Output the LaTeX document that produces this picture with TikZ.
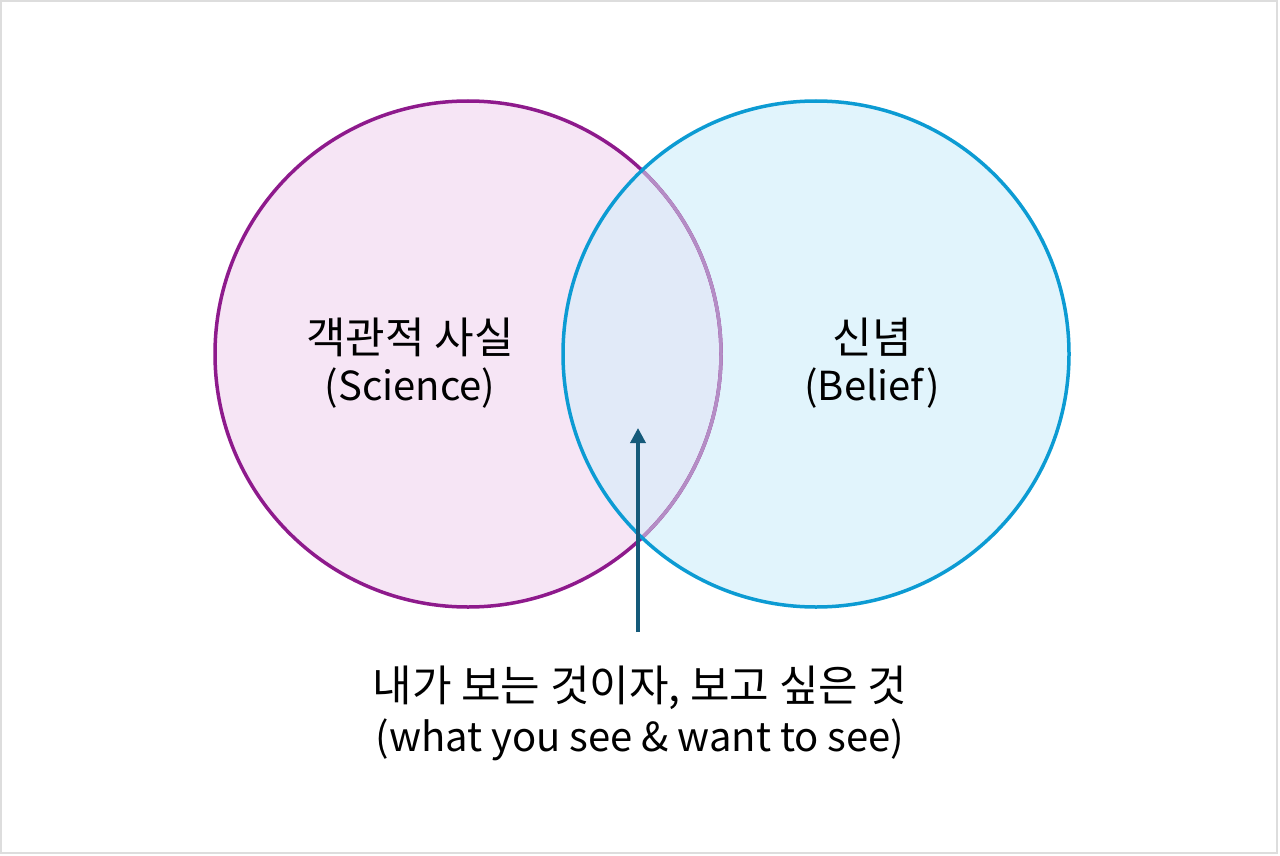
\documentclass[tikz,border=0pt]{standalone}
\usepackage{fontspec}
\setmainfont{Noto Sans CJK KR}
\usetikzlibrary{arrows.meta}

\definecolor{scifill}{HTML}{F6E5F5}
\definecolor{sciline}{HTML}{8E1A8C}
\definecolor{belfill}{HTML}{E1F4FC}
\definecolor{belline}{HTML}{0C9BD3}
\definecolor{bothfill}{HTML}{E1EAF8}
\definecolor{bothline}{HTML}{B48DC5}
\definecolor{arrowcol}{HTML}{155A7A}
\definecolor{framecol}{HTML}{DDDDDD}

\tikzset{
  label kr/.style={font=\fontsize{43}{50}\selectfont, text=black},
  label en/.style={font=\fontsize{40}{48}\selectfont, text=black},
  ring/.style={line width=3.5pt},
}

\begin{document}
\begin{tikzpicture}[x=1pt, y=-1pt]
  \useasboundingbox (0,0) rectangle (1280,856);

  %===== frame =====%
  \draw[framecol, line width=2pt] (1,1) rectangle (1277,853);

  %===== circles =====%
  \fill[scifill] (468,354) circle (253);
  \fill[belfill] (816,354) circle (253);
  \begin{scope}
    \clip (468,354) circle (253);
    \fill[bothfill] (816,354) circle (253);
  \end{scope}

  % left ring, lighter where it lies inside the right circle
  \draw[ring, sciline] (468,354) circle (253);
  \begin{scope}
    \clip (816,354) circle (253);
    \draw[ring, bothline] (468,354) circle (253);
  \end{scope}
  \draw[ring, belline] (816,354) circle (253);

  %===== labels =====%
  \node[label kr] (sci) at (410,337) {객관적 사실};
  \node[label en] (scien) at (410,388) {(Science)};
  \node[label kr] (bel) at (872,337) {신념};
  \node[label en] (belen) at (872,388) {(Belief)};

  \node[label kr] (both) at (640,688) {내가 보는 것이자, 보고 싶은 것};
  \node[label en] (bothen) at (640,740) {(what you see \& want to see)};

  %===== arrow =====%
  \coordinate (tail) at (638,632);
  \coordinate (tip) at (638,428);
  \draw[arrowcol, line width=3.5pt, -{Triangle[length=15pt,width=15pt]}] (tail) -- (tip);
\end{tikzpicture}
\end{document}
